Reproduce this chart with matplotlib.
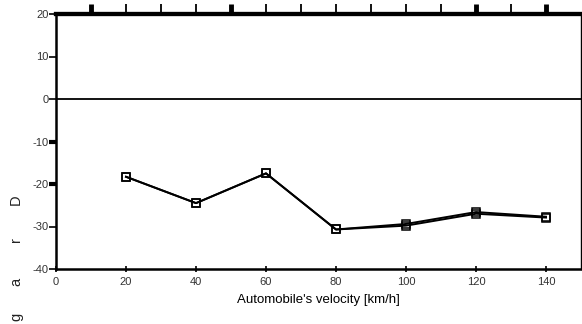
import matplotlib
matplotlib.use("Agg")
import matplotlib.pyplot as plt

plt.rcParams['font.family'] = ['Liberation Sans', 'DejaVu Sans']
plt.rcParams['axes.unicode_minus'] = False

velocity = [20, 40, 60, 80, 100, 120, 140]
drag_a = [-18.3, -24.5, -17.5, -30.7, -29.4, -26.6, -27.7]
drag_b = [-18.3, -24.5, -17.5, -30.7, -29.8, -27.0, -27.9]
x_ticks = [0, 20, 40, 60, 80, 100, 120, 140]
y_ticks = [-40, -30, -20, -10, 0, 10, 20]
top_ticks = [10, 20, 30, 40, 50, 60, 70, 80, 90, 100, 110, 120, 130, 140]
ylabel_letters = ["D", "r", "a", "g"]

fig = plt.figure(figsize=(5.82, 3.24), dpi=100, facecolor='w')
ax = fig.add_axes([56 / 582, 55 / 324, 525 / 582, 255 / 324])

for d in (drag_a, drag_b):
    ax.plot(velocity, d, color='k', linewidth=1.4, marker='s', markersize=6,
            markerfacecolor='none', markeredgecolor='k', markeredgewidth=1.1)

ax.axhline(0, color='k', linewidth=1.3)

ax.set_xlim(0, 150)
ax.set_ylim(-40, 20)
ax.set_xticks(x_ticks)
ax.set_yticks(y_ticks)
ax.tick_params(axis='x', direction='inout', length=5, width=1.2, labelsize=8,
               pad=3, colors='k', labelcolor='#333333')
ax.tick_params(axis='y', direction='out', length=5, width=1.2, labelsize=8,
               pad=0.5, labelcolor='#333333')
ax.set_xlabel("Automobile's velocity [km/h]", fontsize=9.5, labelpad=5)

for i, t in enumerate(ax.yaxis.get_major_ticks()):
    if y_ticks[i] in (-10, -20):
        t.tick1line.set_markeredgewidth(3)

# top axis ticks
top = ax.secondary_xaxis('top')
top.set_xticks(top_ticks)
top.tick_params(direction='out', length=7, width=1.3, labeltop=False)
for i, t in enumerate(top.xaxis.get_major_ticks()):
    if top_ticks[i] in (10, 50, 120, 140):
        t.tick2line.set_markeredgewidth(3.5)
top.spines['top'].set_linewidth(3)

ax.spines['top'].set_linewidth(3)
ax.spines['left'].set_linewidth(1.8)
ax.spines['bottom'].set_linewidth(1.8)
ax.spines['right'].set_linewidth(1.0)

# broken y label
for letter, ypix in zip(ylabel_letters, [200, 240, 282, 317]):
    fig.text(16 / 582, 1 - ypix / 324, letter, rotation=90, fontsize=10.5,
             ha='center', va='center', color='#222222')

fig.savefig("out.png", dpi=100, facecolor='w')
